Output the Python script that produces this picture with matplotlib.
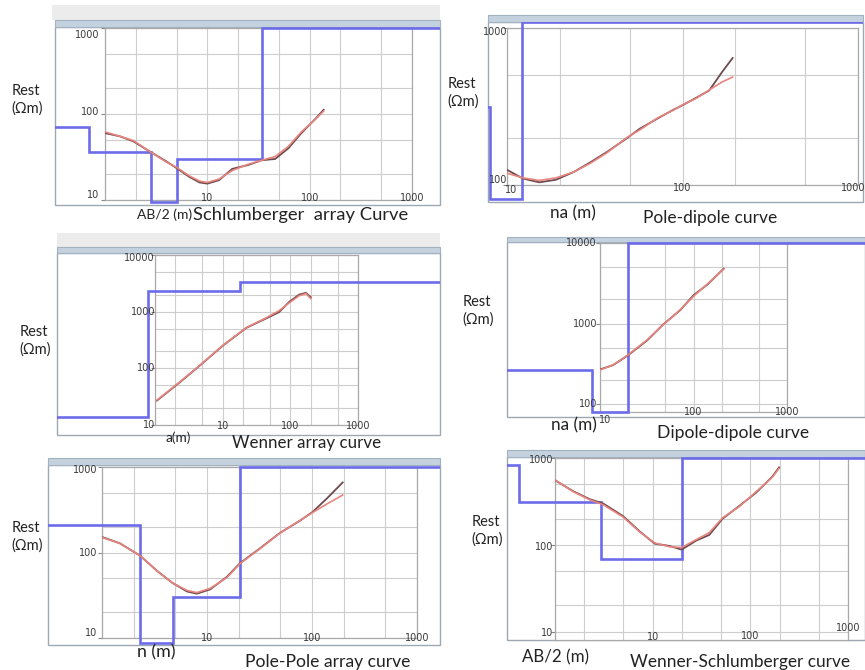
import numpy as np
import matplotlib
matplotlib.use("Agg")
import matplotlib.pyplot as plt
from matplotlib.patches import Rectangle
from matplotlib.ticker import LogLocator

# ---------------- data ----------------
# Schlumberger
sch_x = [1, 1.4, 1.9, 2.7, 4.0, 5.0, 6.7, 8.4, 10, 13, 17.5, 25, 34, 46, 62, 83, 114, 137]
sch_calc = [62, 55, 49, 37, 27.5, 24, 19, 16.6, 16, 17.5, 22, 26, 29, 32, 42, 62, 87, 108]
sch_obs = [60, 55, 48, 37, 28, 23.5, 18.5, 16, 15.5, 17, 23, 25.5, 29, 30, 40, 60, 88, 112]
sch_rho = [70, 36, 9.5, 30, 1000]
sch_depth = [0.7, 2.8, 5.0, 34]
sch_xticks = ["10", "100", "1000"]
sch_yticks = ["10", "100", "1000"]

# Pole-dipole
pd_x = [10, 12.3, 15.3, 19, 24, 30, 37, 48, 57, 72, 89, 100, 120, 142, 168, 193]
pd_calc = [119, 111, 107, 111, 121, 138, 160, 200, 224, 267, 300, 324, 357, 403, 453, 487]
pd_obs = [125, 110, 104, 108, 121, 140, 162, 198, 228, 265, 302, 322, 360, 400, 524, 644]
pd_rho = [316, 82, 1100]
pd_depth = [8.0, 12.2]
pd_xticks = ["10", "100", "1000"]
pd_yticks = ["100", "1000"]

# Wenner
wn_x = [1.07, 2.3, 4.6, 10, 22.5, 44, 68, 97, 135, 170, 200]
wn_calc = [27.5, 57, 113, 253, 525, 780, 1040, 1440, 1910, 2090, 1700]
wn_obs = [27, 56, 112, 250, 520, 760, 980, 1500, 2000, 2150, 1800]
wn_rho = [14, 2340, 3370]
wn_depth = [0.79, 17.8]
wn_xticks = ["10", "100", "1000"]
wn_yticks = ["10", "100", "1000", "10000"]

# Dipole-dipole
dd_x = [10, 13.8, 20, 32, 47.6, 72.7, 100, 141, 210]
dd_calc = [266, 307, 410, 630, 970, 1500, 2180, 3100, 4730]
dd_obs = [270, 305, 405, 620, 980, 1480, 2250, 3050, 4800]
dd_rho = [265, 80, 10000]
dd_depth = [8.2, 20]
dd_xticks = ["10", "100", "1000"]
dd_yticks = ["100", "1000", "10000"]

# Pole-Pole
pp_x = [1, 1.48, 2.3, 3.34, 4.7, 6.45, 8, 10.7, 15.5, 20.6, 32, 49, 77, 102, 139, 196]
pp_calc = [150, 128, 92, 61, 44, 36, 34, 38, 51, 74, 111, 167, 238, 295, 370, 470]
pp_obs = [152, 128, 92, 61, 44, 35, 33, 37, 52, 75, 112, 168, 236, 300, 430, 660]
pp_rho = [208, 8.7, 30, 1000]
pp_depth = [2.3, 4.7, 20.6]
pp_xticks = ["10", "100", "1000"]
pp_yticks = ["10", "100", "1000"]

# Wenner-Schlumberger
ws_x = [1, 1.53, 2.27, 3.1, 4.95, 7.4, 10.5, 14.9, 19.8, 28, 38, 52, 77, 115, 168, 197]
ws_calc = [560, 410, 330, 290, 210, 140, 105, 95, 93, 115, 138, 205, 275, 410, 600, 760]
ws_obs = [555, 415, 335, 300, 215, 142, 103, 97, 88, 112, 130, 200, 280, 400, 610, 780]
ws_rho = [830, 310, 69, 1000]
ws_depth = [0.43, 2.95, 20]
ws_xticks = ["10", "100", "1000"]
ws_yticks = ["10", "100", "1000"]

# ---------------- layout ----------------
W, H = 865, 670
fig = plt.figure(figsize=(W / 100, H / 100), dpi=100)
fig.patch.set_facecolor("white")

CAP_FONT = ["Lato", "DejaVu Sans"]
BLUE = "#6c6cea"
OBS = "#6e4a4e"
CALC = "#e8857e"


def fx(px):
    return px / W


def fy(py):
    return 1 - py / H


def rect_px(l, t, r, b, **kw):
    p = Rectangle((fx(l), fy(b)), (r - l) / W, (b - t) / H,
                  transform=fig.transFigure, **kw)
    fig.add_artist(p)
    return p


def panel(cfg, cx, calc, obs, rho, depth, xticks, yticks):
    if cfg.get("band"):
        rect_px(*cfg["band"], facecolor="#ececec", edgecolor="none", zorder=-6)
    winp = rect_px(*cfg["win"], facecolor="white", edgecolor="#9ea8b2", lw=1.0, zorder=-5)
    rect_px(*cfg["title"], facecolor="#c4d1de", edgecolor="#a3b2c1", lw=0.8, zorder=-4)
    l, t, r, b = cfg["grid"]
    ax = fig.add_axes([fx(l), fy(b), (r - l) / W, (b - t) / H])
    ax.set_xscale("log")
    ax.set_yscale("log")
    ax.set_xlim(*cfg["xlim"])
    ax.set_ylim(*cfg["ylim"])
    for axis in (ax.xaxis, ax.yaxis):
        axis.set_major_locator(LogLocator(base=10, subs=(1.0,)))
        axis.set_minor_locator(LogLocator(base=10, subs=(2.0, 5.0)))
    ax.tick_params(which="both", labelbottom=False, labelleft=False)
    ax.tick_params(axis="x", which="both", length=0)
    ax.tick_params(axis="y", which="minor", length=0)
    ax.tick_params(axis="y", which="major", length=3, color="#888888", width=0.8)
    ax.grid(which="both", color="#cdcdcd", lw=0.8)
    ax.set_axisbelow(True)
    for s in ax.spines.values():
        s.set_color("#a9a9a9")
        s.set_linewidth(0.9)

    edges = [cfg["xlim"][0] / 100] + list(depth) + [cfg["xlim"][1] * 100]
    st = ax.stairs(rho, edges, baseline=None, color=BLUE, lw=1.9, zorder=3)
    st.set_clip_path(winp)
    ax.plot(cx, obs, color=OBS, lw=1.3, zorder=4)
    ax.plot(cx, calc, color=CALC, lw=1.2, zorder=5)

    xdx = cfg.get("xdx", [0] * len(xticks))
    for s, dy, dx in zip(xticks, cfg["xdy"], xdx):
        ax.annotate(s, xy=(float(s), 0), xycoords=("data", "axes fraction"),
                    xytext=(dx, dy), textcoords="offset pixels", ha="center",
                    va="center", fontsize=7, color="#3a3a3a", annotation_clip=False)
    for s, dy in zip(yticks, cfg["ydy"]):
        ax.annotate(s, xy=(0, float(s)), xycoords=("axes fraction", "data"),
                    xytext=(-cfg["ydx"], dy), textcoords="offset pixels", ha="right",
                    va="center", fontsize=7, color="#3a3a3a", annotation_clip=False)

    rx, ry = cfg["rest"]
    fig.text(fx(rx), fy(ry), "Rest", ha="left", va="center", fontsize=10.5,
             family=CAP_FONT, color="#222222")
    fig.text(fx(rx - 1), fy(ry + 18), "(Ωm)", ha="left", va="center", fontsize=10.5,
             family=CAP_FONT, color="#222222")
    xl, (xlx, xly), xfs = cfg["xlabel"]
    fig.text(fx(xlx), fy(xly), xl, ha="left", va="center", fontsize=xfs,
             family=CAP_FONT, color="#222222")
    cap, (cpx, cpy), cfs = cfg["caption"]
    fig.text(fx(cpx), fy(cpy), cap, ha="left", va="center", fontsize=cfs,
             family=CAP_FONT, color="#222222")
    return ax


cfgs = {
    "sch": dict(band=(52, 5, 440, 20), title=(55, 20, 440, 27), win=(55, 27, 440, 205),
                grid=(105, 28, 412, 200), xlim=(1, 1000), ylim=(10, 1000),
                xdy=[2, 2, 2], ydy=[5, 2, -7], ydx=6, rest=(12, 91),
                xlabel=("AB/2 (m)", (137, 215), 10),
                caption=("Schlumberger  array Curve", (193, 215), 13.2)),
    "pd": dict(title=(488, 15, 863, 22), win=(488, 22, 863, 202),
               grid=(507, 28, 858, 185), xlim=(10, 1000), ylim=(100, 1000),
               xdy=[-5, -3, -3], xdx=[4, 0, -5], ydy=[5, -4], ydx=0, rest=(448, 84),
               xlabel=("na (m)", (550, 213), 12.3),
               caption=("Pole-dipole curve", (643, 218), 12.5)),
    "wn": dict(band=(57, 233, 440, 247), title=(57, 247, 440, 253), win=(57, 253, 440, 435),
               grid=(155, 255, 358, 425), xlim=(1, 1000), ylim=(10, 10000),
               xdy=[-1, -1, -1], ydy=[0, 0, 0, -3], ydx=0, rest=(20, 332),
               xlabel=("a(m)", (165, 438), 9.8),
               caption=("Wenner array curve", (232, 443), 12.2)),
    "dd": dict(title=(507, 237, 865, 242), win=(507, 242, 865, 417),
               grid=(600, 243, 787, 412), xlim=(10, 1000), ylim=(80, 10000),
               xdy=[-8, 0, 0], xdx=[5, 0, 0], ydy=[0, 0, 0], ydx=3, rest=(463, 302),
               xlabel=("na (m)", (551, 425), 12.3),
               caption=("Dipole-dipole curve", (657, 433), 12.6)),
    "pp": dict(title=(48, 458, 440, 465), win=(48, 465, 440, 645),
               grid=(102, 467, 417, 638), xlim=(1, 1000), ylim=(10, 1000),
               xdy=[0, 0, 0], ydy=[5, -1, -3], ydx=5, rest=(12, 528),
               xlabel=("n (m)", (137, 652), 12.8),
               caption=("Pole-Pole array curve", (245, 662), 12.6)),
    "ws": dict(title=(507, 450, 865, 457), win=(507, 457, 865, 640),
               grid=(555, 458, 848, 640), xlim=(1, 1000), ylim=(8, 1000),
               xdy=[3, 4, 12], ydy=[-1, -2, -2], ydx=2, rest=(472, 522),
               xlabel=("AB/2 (m)", (522, 657), 12.2),
               caption=("Wenner-Schlumberger curve", (630, 662), 12.4)),
}

panel(cfgs["sch"], sch_x, sch_calc, sch_obs, sch_rho, sch_depth, sch_xticks, sch_yticks)
panel(cfgs["pd"], pd_x, pd_calc, pd_obs, pd_rho, pd_depth, pd_xticks, pd_yticks)
panel(cfgs["wn"], wn_x, wn_calc, wn_obs, wn_rho, wn_depth, wn_xticks, wn_yticks)
panel(cfgs["dd"], dd_x, dd_calc, dd_obs, dd_rho, dd_depth, dd_xticks, dd_yticks)
panel(cfgs["pp"], pp_x, pp_calc, pp_obs, pp_rho, pp_depth, pp_xticks, pp_yticks)
panel(cfgs["ws"], ws_x, ws_calc, ws_obs, ws_rho, ws_depth, ws_xticks, ws_yticks)

fig.savefig("out.png", dpi=100)
